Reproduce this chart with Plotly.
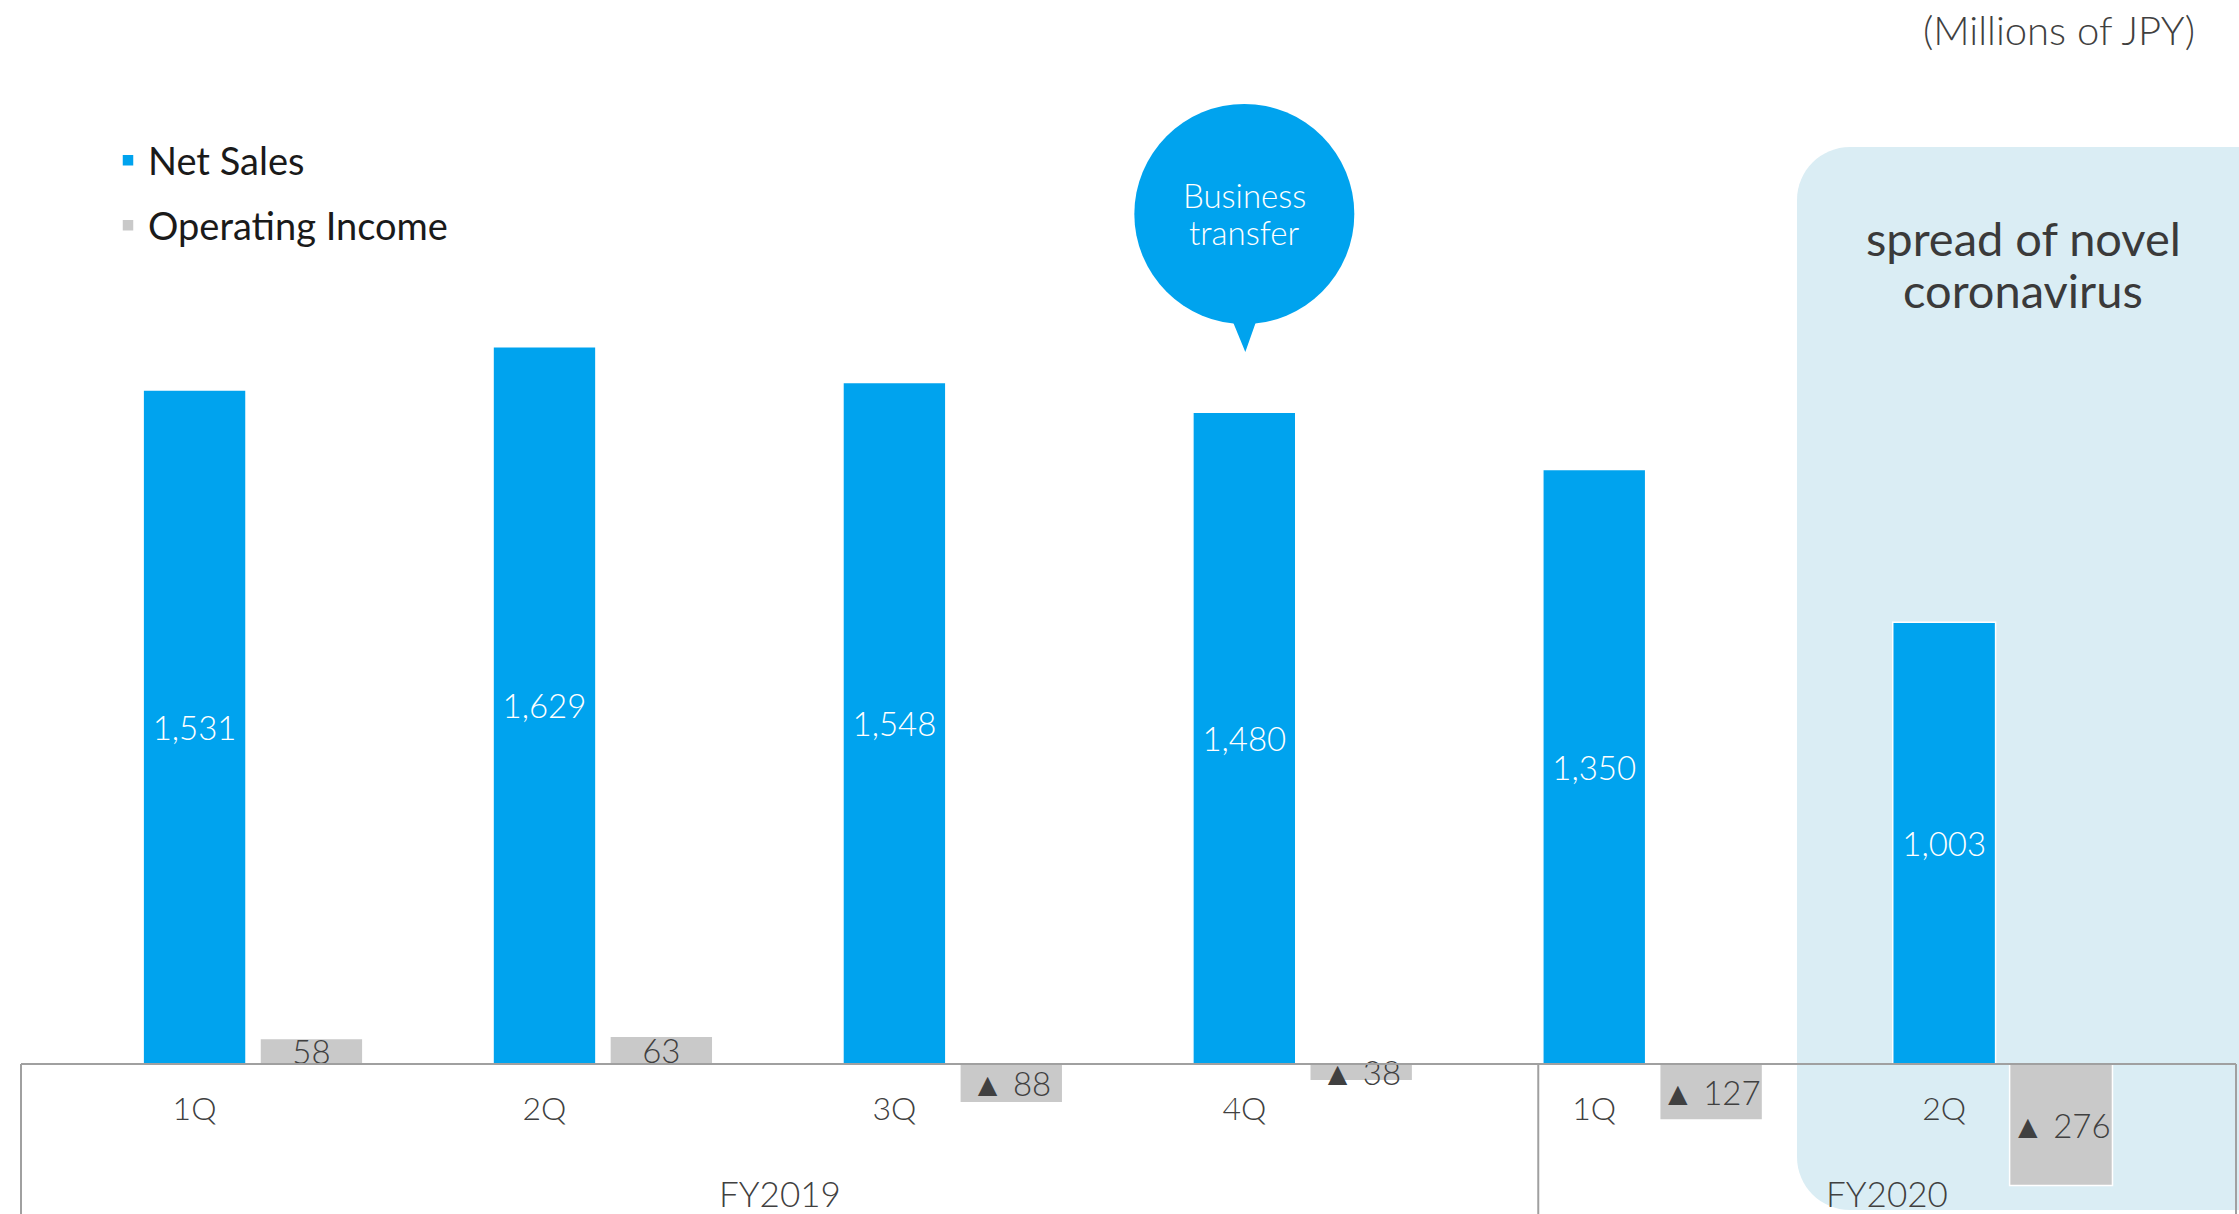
import plotly.graph_objects as go

# Quarterly results (Millions of JPY)
quarters = ["1Q", "2Q", "3Q", "4Q", "1Q", "2Q"]
fiscal_years = ["FY2019", "FY2020"]
net_sales = [1531, 1629, 1548, 1480, 1350, 1003]
operating_income = [58, 63, -88, -38, -127, -276]

BLUE = "#00A3EE"
GREY = "#C9C9C9"
PANEL = "#DAEDF4"
TEXT = "#404040"
FRAME = "#A0A0A0"
FONT = "Lato, 'Open Sans', sans-serif"

W, H = 2239, 1214
ML, MR = 21, 3
PW = W - ML - MR
x_pos = list(range(len(quarters)))
bar_w = 0.294
income_offset = 0.187
x_range = [-0.496, 5.834]
y_range = [-340.7, 2416.5]
baseline = (0 - y_range[0]) / (y_range[1] - y_range[0])
year_split = 3.84          # divider between the fiscal-year blocks
bubble_quarter = 3         # FY2019 4Q


def income_label(v):
    return f"{v:,}" if v >= 0 else f"\u25B2 {abs(v):,}"


def py_paper(py):
    return 1 - py / H


def px_paper(px):
    return (px - ML) / PW


fig = go.Figure()

fig.add_trace(go.Bar(
    name="Net Sales", x=x_pos, y=net_sales,
    width=bar_w, offset=-bar_w / 2,
    marker=dict(color=BLUE, line=dict(color="white", width=1.5)),
    texttemplate="%{y:,}", textposition="inside", insidetextanchor="middle",
    textangle=0, constraintext="none",
    insidetextfont=dict(color="white", size=33, family=FONT, weight=300),
    legendgroup="sales", hoverinfo="skip",
))

fig.add_trace(go.Bar(
    name="Operating Income", x=x_pos, y=operating_income,
    width=bar_w, offset=income_offset,
    marker=dict(color=GREY, line=dict(color="white", width=1.5)),
    text=[income_label(v) for v in operating_income],
    textposition="inside", insidetextanchor="middle",
    textangle=0, constraintext="none",
    insidetextfont=dict(color=TEXT, size=33, family=FONT, weight=300),
    legendgroup="income", hoverinfo="skip",
))

# highlight panel with rounded left corners (pixel path anchored at top-right)
r, k = 53, 0.552 * 53
left, right, top, bottom = -439, 9, -147, -1210
panel_path = (
    f"M {right},{top} L {left + r},{top} "
    f"C {left + r - k},{top} {left},{top - r + k} {left},{top - r} "
    f"L {left},{bottom + r} "
    f"C {left},{bottom + r - k} {left + r - k},{bottom} {left + r},{bottom} "
    f"L {right},{bottom} Z"
)

bubble_y = py_paper(214)

shapes = [
    dict(type="path", path=panel_path, xref="paper", yref="paper",
         xsizemode="pixel", ysizemode="pixel", xanchor=1, yanchor=1,
         fillcolor=PANEL, line=dict(width=0), layer="below"),
    dict(type="circle", xref="x", yref="paper",
         xsizemode="pixel", ysizemode="pixel",
         xanchor=bubble_quarter, yanchor=bubble_y,
         x0=-110, x1=110, y0=-110, y1=110,
         fillcolor=BLUE, line=dict(width=0), layer="above"),
    dict(type="path", xref="x", yref="paper",
         xsizemode="pixel", ysizemode="pixel",
         xanchor=bubble_quarter, yanchor=bubble_y,
         path="M -13,-104 L 13,-104 L 1,-138 Z",
         fillcolor=BLUE, line=dict(width=0), layer="above"),
]
for xv, ref in [(0, "paper"), (year_split, "x"), (1, "paper")]:
    shapes.append(dict(type="line", xref=ref, yref="y", x0=xv, x1=xv,
                       y0=0, y1=y_range[0],
                       line=dict(color=FRAME, width=2), layer="above"))

# fiscal-year labels centred in their frame blocks
bounds = [x_range[0], year_split, x_range[1]]
annotations = []
for i, fy in enumerate(fiscal_years):
    annotations.append(dict(
        text=fy, x=(bounds[i] + bounds[i + 1]) / 2, xref="x", xanchor="center",
        y=py_paper(1193), yref="paper", yanchor="middle",
        showarrow=False, font=dict(size=35, color=TEXT, family=FONT, weight=300)))

# callout and panel captions, one annotation per line
for line, py in [("Business", 195), ("transfer", 232)]:
    annotations.append(dict(
        text=line, x=bubble_quarter, xref="x", xanchor="center",
        y=py_paper(py), yref="paper", yanchor="middle", showarrow=False,
        font=dict(size=33, color="white", family=FONT, weight=300)))

for line, py in [("spread of novel", 238), ("coronavirus", 290)]:
    annotations.append(dict(
        text=line, x=px_paper(2023), xref="paper", xanchor="center",
        y=py_paper(py), yref="paper", yanchor="middle", showarrow=False,
        font=dict(size=47, color="#3A3A3A", family=FONT)))

annotations.append(dict(
    text="(Millions of JPY)", x=px_paper(2197), xref="paper", xanchor="right",
    y=py_paper(30), yref="paper", yanchor="middle", showarrow=False,
    font=dict(size=40, color=TEXT, family=FONT, weight=300)))

fig.update_layout(
    width=W, height=H,
    margin=dict(l=ML, r=MR, t=0, b=0, autoexpand=False),
    paper_bgcolor="white", plot_bgcolor="rgba(0,0,0,0)",
    barmode="overlay",
    font=dict(family=FONT, color=TEXT),
    xaxis=dict(range=x_range, anchor="free", position=baseline,
               showgrid=False, zeroline=False, showline=True,
               linecolor=FRAME, linewidth=2, ticks="",
               tickvals=x_pos, ticktext=quarters,
               tickfont=dict(size=32, color=TEXT, family=FONT, weight=300),
               ticklabelstandoff=17, automargin=False, fixedrange=True),
    yaxis=dict(range=y_range, visible=False, showgrid=False,
               zeroline=False, automargin=False, fixedrange=True),
    legend=dict(x=px_paper(108), y=py_paper(129), xanchor="left", yanchor="top",
                traceorder="grouped", tracegroupgap=12.6,
                bgcolor="rgba(0,0,0,0)",
                font=dict(size=38, color="#1A1A1A", family=FONT)),
    showlegend=True,
    shapes=shapes,
    annotations=annotations,
)

fig.write_html("out.html")
